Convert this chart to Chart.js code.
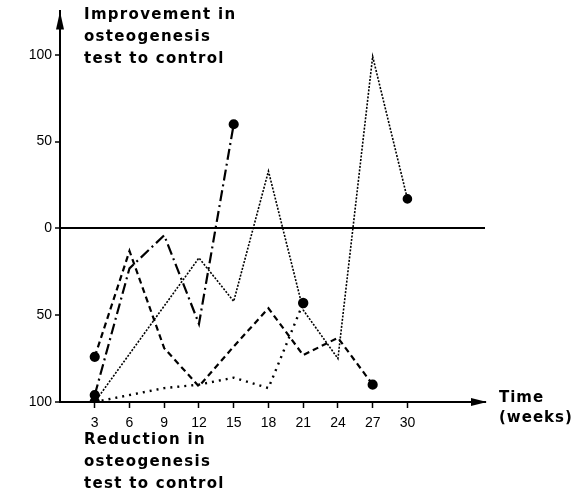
<!DOCTYPE html>
<html>
<head>
<meta charset="utf-8">
<script src="https://cdn.jsdelivr.net/npm/chart.js@4"></script>
<style>
  body { margin: 0; background: #fff; }
  #wrap { position: relative; width: 576px; height: 496px; }
  .note {
    position: absolute;
    font-family: "DejaVu Sans", "Liberation Sans", Arial, sans-serif;
    font-weight: bold;
    font-size: 15px;
    letter-spacing: 1.3px;
    line-height: 22px;
    color: #000;
    white-space: nowrap;
  }
</style>
</head>
<body>
<div id="wrap">
  <canvas id="chart"></canvas>
  <div class="note" style="left:84px; top:3px;">Improvement in<br>osteogenesis<br>test to control</div>
  <div class="note" style="left:84px; top:428px;">Reduction in<br>osteogenesis<br>test to control</div>
  <div class="note" style="left:499px; top:387px; line-height:20px; letter-spacing:1px;">Time<br>(weeks)</div>
</div>
<script>
// semaine de mesure
const weeks = [3, 6, 9, 12, 15, 18, 21, 24, 27, 30];
const yTicks = [-100, -50, 0, 50, 100];

// valori (null = nessun punto)
const shortDash = [-74, -13, -69, -91, -68, -46, -73, -63, -90, null];
const dashDot   = [-96, -23, -4, -55, 60, null, null, null, null, null];
const fineDot   = [-100, null, null, -17, -42, 33, -47, -75, 99, 17];
const sparseDot = [-100, null, -92, -90, -86, -92, -43, null, null, null];

// cerchi pieni
const shortDashDots = [true, false, false, false, false, false, false, false, true, false];
const dashDotDots   = [true, false, false, false, true, false, false, false, false, false];
const fineDotDots   = [false, false, false, false, false, false, false, false, false, true];
const sparseDotDots = [true, false, false, false, false, false, true, false, false, false];

const font = "'Liberation Sans', Arial, sans-serif";

function serie(vals, dots, dash, width) {
  return {
    data: weeks.map((w, i) => ({ x: w, y: vals[i] })),
    borderColor: '#000',
    backgroundColor: '#000',
    borderWidth: width,
    borderDash: dash,
    pointRadius: dots.map(d => d ? 4 : 0),
    pointHoverRadius: 0,
    showLine: true,
    spanGaps: true,
    tension: 0
  };
}

const arrows = {
  id: 'arrows',
  afterDraw(chart) {
    const { left, top, right, bottom } = chart.chartArea;
    const ctx = chart.ctx;
    ctx.save();
    ctx.fillStyle = '#000';
    ctx.beginPath();
    ctx.moveTo(left, top);
    ctx.lineTo(left - 4, top + 18);
    ctx.lineTo(left + 4, top + 18);
    ctx.closePath();
    ctx.fill();
    ctx.beginPath();
    ctx.moveTo(right + 2, bottom);
    ctx.lineTo(right - 14, bottom - 4);
    ctx.lineTo(right - 14, bottom + 4);
    ctx.closePath();
    ctx.fill();
    ctx.restore();
  }
};

new Chart(document.getElementById('chart').getContext('2d'), {
  type: 'scatter',
  data: {
    datasets: [
      serie(shortDash, shortDashDots, [6, 4], 2.2),
      serie(dashDot, dashDotDots, [11, 4, 2, 4], 2.2),
      serie(fineDot, fineDotDots, [2, 1.5], 1.6),
      serie(sparseDot, sparseDotDots, [2, 5], 2.4)
    ]
  },
  plugins: [arrows],
  options: {
    responsive: true,
    maintainAspectRatio: false,
    animation: false,
    layout: { padding: { top: 10, right: 91, left: 0, bottom: 0 } },
    plugins: { legend: { display: false }, tooltip: { enabled: false } },
    scales: {
      x: {
        type: 'linear',
        min: 0,
        max: 36.7,
        afterBuildTicks: s => { s.ticks = weeks.map(v => ({ value: v })); },
        afterFit: s => { s.height = 94; },
        border: { color: '#000', width: 2 },
        grid: { drawOnChartArea: false, tickColor: '#000', tickWidth: 1.5, tickLength: 6 },
        ticks: { color: '#000', padding: 7, font: { family: font, size: 14 } }
      },
      y: {
        min: -100,
        max: 125,
        afterBuildTicks: s => { s.ticks = yTicks.map(v => ({ value: v })); },
        afterFit: s => { s.width = 60; },
        border: { color: '#000', width: 2 },
        grid: {
          drawOnChartArea: true,
          color: c => c.tick && c.tick.value === 0 ? '#000' : 'rgba(0,0,0,0)',
          lineWidth: 2,
          tickColor: '#000',
          tickWidth: 1.5,
          tickLength: 5
        },
        ticks: {
          color: '#000',
          padding: 3,
          font: { family: font, size: 14 },
          callback: v => Math.abs(v)
        }
      }
    }
  }
});
</script>
</body>
</html>
